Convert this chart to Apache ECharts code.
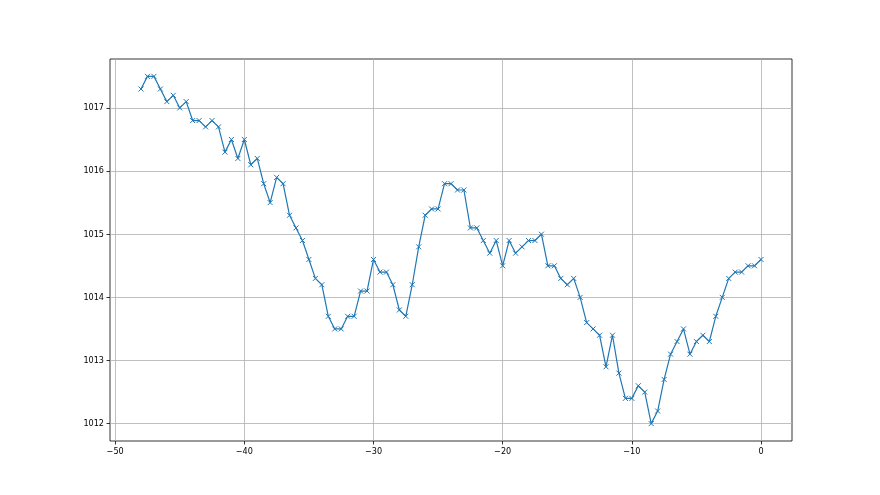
<!DOCTYPE html>
<html>
<head>
<meta charset="utf-8">
<script src="https://cdn.jsdelivr.net/npm/echarts@6/dist/echarts.min.js"></script>
<style>
  html, body { margin: 0; padding: 0; background: #fff; }
  #chart { width: 880px; height: 495px; }
</style>
</head>
<body>
<div id="chart"></div>
<script>
// hours relative to now, every half hour
const hours = []
for (let i = 0; i <= 96; i++) hours.push(-48 + i * 0.5)

const pressure = [
  1017.3, 1017.5, 1017.5, 1017.3, 1017.1, 1017.2, 1017.0, 1017.1, 1016.8, 1016.8,
  1016.7, 1016.8, 1016.7, 1016.3, 1016.5, 1016.2, 1016.5, 1016.1, 1016.2, 1015.8,
  1015.5, 1015.9, 1015.8, 1015.3, 1015.1, 1014.9, 1014.6, 1014.3, 1014.2, 1013.7,
  1013.5, 1013.5, 1013.7, 1013.7, 1014.1, 1014.1, 1014.6, 1014.4, 1014.4, 1014.2,
  1013.8, 1013.7, 1014.2, 1014.8, 1015.3, 1015.4, 1015.4, 1015.8, 1015.8, 1015.7,
  1015.7, 1015.1, 1015.1, 1014.9, 1014.7, 1014.9, 1014.5, 1014.9, 1014.7, 1014.8,
  1014.9, 1014.9, 1015.0, 1014.5, 1014.5, 1014.3, 1014.2, 1014.3, 1014.0, 1013.6,
  1013.5, 1013.4, 1012.9, 1013.4, 1012.8, 1012.4, 1012.4, 1012.6, 1012.5, 1012.0,
  1012.2, 1012.7, 1013.1, 1013.3, 1013.5, 1013.1, 1013.3, 1013.4, 1013.3, 1013.7,
  1014.0, 1014.3, 1014.4, 1014.4, 1014.5, 1014.5, 1014.6
]

const xTicks = [-50, -40, -30, -20, -10, 0]
const yTicks = [1012, 1013, 1014, 1015, 1016, 1017]

const chart = echarts.init(document.getElementById('chart'))
const axisFont = { color: '#000', fontSize: 9, fontFamily: '"DejaVu Sans Condensed", "DejaVu Sans"' }
const fmt = v => String(v).replace('-', '\u2212')

chart.setOption({
  animation: false,
  grid: {
    left: 110, right: 88, top: 59, bottom: 54,
    show: true, borderColor: '#000', borderWidth: 0.8, backgroundColor: '#fff'
  },
  xAxis: {
    type: 'value',
    min: -50.4,
    max: 2.4,
    axisLine: { show: false, onZero: false },
    axisTick: { show: true, length: 3.5, customValues: xTicks, lineStyle: { color: '#000', width: 0.8 } },
    axisLabel: { ...axisFont, margin: 6, customValues: xTicks, formatter: fmt },
    splitLine: { show: true, lineStyle: { color: '#b0b0b0', width: 0.8 } }
  },
  yAxis: {
    type: 'value',
    min: 1011.725,
    max: 1017.775,
    axisLine: { show: false, onZero: false },
    axisTick: { show: true, length: 3.5, customValues: yTicks, lineStyle: { color: '#000', width: 0.8 } },
    axisLabel: { ...axisFont, margin: 6, customValues: yTicks, formatter: fmt },
    splitLine: { show: true, lineStyle: { color: '#b0b0b0', width: 0.8 } }
  },
  series: [{
    type: 'line',
    data: hours.map((h, i) => [h, pressure[i]]),
    showAllSymbol: true,
    symbol: 'path://M0,0L10,10M10,0L0,10',
    symbolSize: 5,
    lineStyle: { color: '#1f77b4', width: 1.2 },
    itemStyle: { color: '#1f77b4', borderColor: '#1f77b4', borderWidth: 1 }
  }]
})
</script>
</body>
</html>
